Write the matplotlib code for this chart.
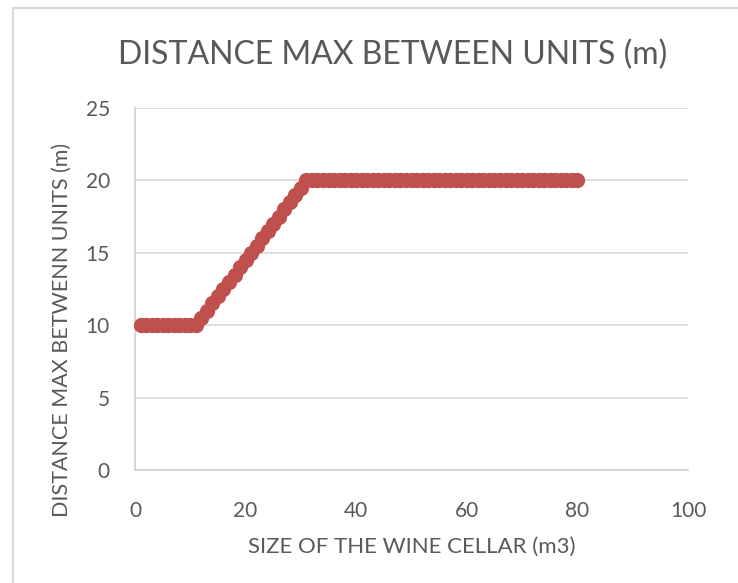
import matplotlib.pyplot as plt
from matplotlib.patches import Rectangle

# datos
size_m3 = list(range(1, 81))
dist_max = ([10] * 11
            + [10.5, 11, 11.5, 12, 12.5, 13, 13.5, 14, 14.5, 15,
               15.5, 16, 16.5, 17, 17.5, 18, 18.5, 19, 19.5]
            + [20] * 50)
xticks = [0, 20, 40, 60, 80, 100]
yticks = [0, 5, 10, 15, 20, 25]

plt.rcParams['font.family'] = ['Lato', 'DejaVu Sans']
gris = '#595959'

fig = plt.figure(figsize=(7.38, 5.83), dpi=100)
ax = fig.add_axes([135 / 738, 1 - 470 / 583, 553 / 738, 362 / 583])

# marco exterior del grafico
fig.patches.append(Rectangle((13 / 738, -0.1), 2, 1 - 8 / 583 + 0.1,
                             transform=fig.transFigure, fill=False,
                             edgecolor='#D9D9D9', linewidth=1.5))

ax.plot(size_m3, dist_max, 'o', color='#C0504D', markersize=11,
        markeredgewidth=0, zorder=3, clip_on=False)

ax.set_xlim(0, 100)
ax.set_ylim(0, 25)
ax.set_xticks(xticks)
ax.set_yticks(yticks)
ax.grid(axis='y', color='#D9D9D9', linewidth=1.2)
ax.set_axisbelow(True)
for s in ['top', 'right']:
    ax.spines[s].set_visible(False)
for s in ['left', 'bottom']:
    ax.spines[s].set_color('#D0D0D0')
    ax.spines[s].set_linewidth(1.2)
ax.tick_params(axis='x', length=0, labelsize=15, colors=gris, pad=22)
ax.tick_params(axis='y', length=0, labelsize=15, colors=gris, pad=18)

# titulo centrado en el area del grafico
fig.text(393 / 738, 1 - 55 / 583, 'DISTANCE MAX BETWEEN UNITS (m)', fontsize=23,
         color=gris, ha='center', va='center')
ax.set_xlabel('SIZE OF THE WINE CELLAR (m3)', fontsize=16, color=gris, labelpad=12)
ax.set_ylabel('DISTANCE MAX BETWENN UNITS (m)', fontsize=15.5, color=gris,
              va='center')
ax.yaxis.set_label_coords(-0.132, 0.387)

fig.savefig('out.png', dpi=100)
